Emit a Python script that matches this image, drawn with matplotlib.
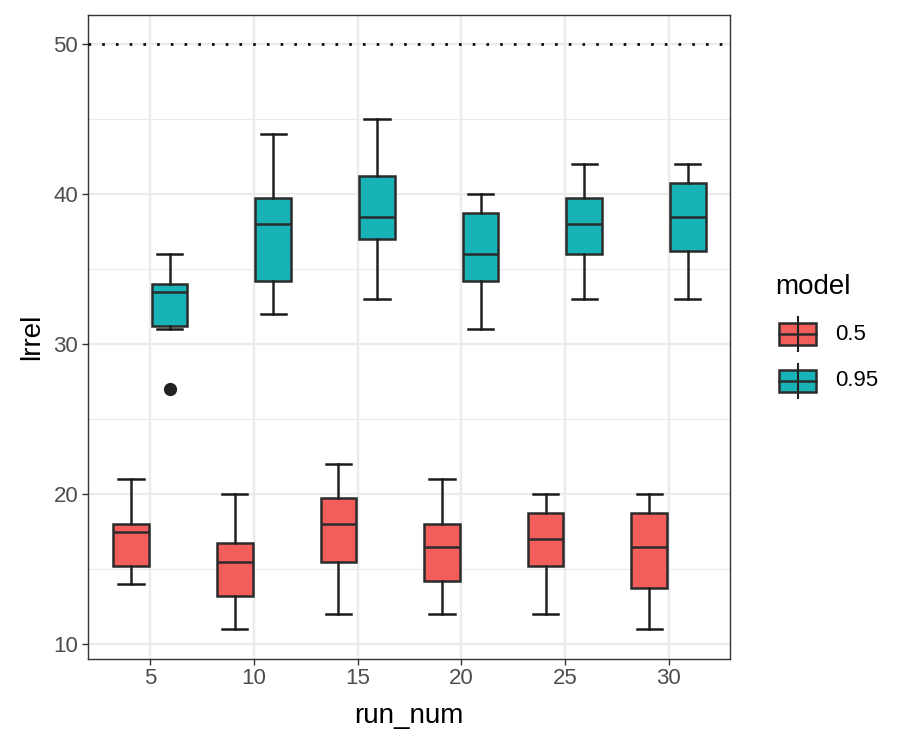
import numpy as np
import matplotlib.pyplot as plt
from matplotlib.patches import Rectangle

plt.rcParams['font.family'] = ['Liberation Sans', 'DejaVu Sans']

# data
run_num = [5, 10, 15, 20, 25, 30]
models = ['0.5', '0.95']
colors = ['#F35E5A', '#17B3B7']

lo_05 = [14, 11, 12, 12, 12, 11]
q1_05 = [15.25, 13.25, 15.5, 14.25, 15.25, 13.75]
med_05 = [17.5, 15.5, 18, 16.5, 17, 16.5]
q3_05 = [18, 16.75, 19.75, 18, 18.75, 18.75]
hi_05 = [21, 20, 22, 21, 20, 20]

lo_95 = [31, 32, 33, 31, 33, 33]
q1_95 = [31.25, 34.25, 37, 34.25, 36, 36.25]
med_95 = [33.5, 38, 38.5, 36, 38, 38.5]
q3_95 = [34, 39.75, 41.25, 38.75, 39.75, 40.75]
hi_95 = [36, 44, 45, 40, 42, 42]
fliers_95 = [[27], [], [], [], [], []]
fliers_05 = [[], [], [], [], [], []]

ref_line = 50

W, H = 910, 744
fig = plt.figure(figsize=(W / 100, H / 100), dpi=100)
ax = fig.add_axes([88 / W, 1 - 658.5 / H, (729.5 - 88) / W, (658.5 - 15) / H])

series = [
    (lo_05, q1_05, med_05, q3_05, hi_05, fliers_05, -0.93),
    (lo_95, q1_95, med_95, q3_95, hi_95, fliers_95, 0.93),
]
edge = '#2b2b2b'
for (lo, q1, med, q3, hi, fl, off), col in zip(series, colors):
    stats = []
    for i in range(len(run_num)):
        stats.append(dict(whislo=lo[i], q1=q1[i], med=med[i], q3=q3[i],
                          whishi=hi[i], fliers=fl[i]))
    pos = [r + off for r in run_num]
    ax.bxp(stats, positions=pos, widths=1.72, capwidths=1.22,
           patch_artist=True, manage_ticks=False,
           boxprops=dict(facecolor=col, edgecolor=edge, linewidth=1.8),
           medianprops=dict(color=edge, linewidth=1.8),
           whiskerprops=dict(color='#222222', linewidth=1.8),
           capprops=dict(color='#1a1a1a', linewidth=1.8),
           flierprops=dict(marker='o', markerfacecolor='#222222',
                           markeredgecolor='#222222', markersize=8.5),
           zorder=3)

ax.axhline(ref_line, color='black', linestyle=(0, (1, 4.2)), linewidth=1.9, zorder=4)

ax.set_xlim(1.99, 32.94)
ax.set_ylim(9.05, 51.95)
ax.set_xticks(run_num)
ax.set_yticks([10, 20, 30, 40, 50])
ax.set_yticks([15, 25, 35, 45], minor=True)
ax.grid(True, which='major', color='#EBEBEB', linewidth=1.6, zorder=0)
ax.grid(True, which='minor', axis='y', color='#EBEBEB', linewidth=0.8, zorder=0)
ax.set_axisbelow(True)
for s in ax.spines.values():
    s.set_color('#333333')
    s.set_linewidth(1.0)
ax.tick_params(which='major', length=4, width=1.0, color='#333333',
               labelsize=16, labelcolor='#4D4D4D', pad=3)
ax.tick_params(which='minor', length=0)
ax.set_xlabel('run_num', fontsize=20, color='black', labelpad=10)
ax.set_ylabel('lrrel', fontsize=20, color='black', labelpad=6)

# legend
fig.text(775 / W, 1 - 287 / H, 'model', fontsize=20, ha='left', va='center')
lax = fig.add_axes([0, 0, 1, 1])
lax.set_xlim(0, W)
lax.set_ylim(H, 0)
lax.axis('off')
for lab, col, cy in zip(models, colors, [334, 380.5]):
    lax.plot([797.5, 797.5], [cy - 17, cy + 17], color='#222222', lw=1.5)
    lax.add_patch(Rectangle((779, cy - 11), 37, 22, facecolor=col,
                            edgecolor=edge, lw=1.8))
    lax.plot([779, 816], [cy, cy], color=edge, lw=1.8)
    lax.text(835, cy, lab, fontsize=16, ha='left', va='center', color='black')

fig.savefig('out.png', dpi=100)
